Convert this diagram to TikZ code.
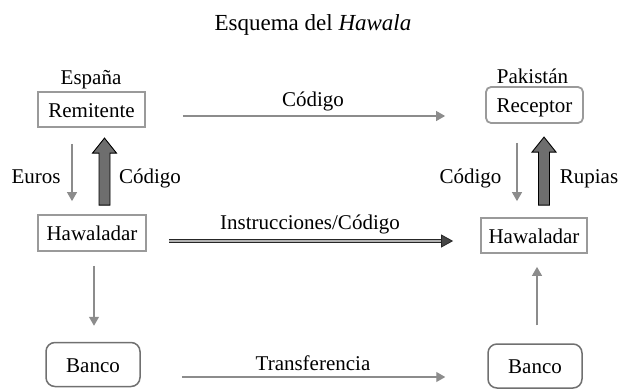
\documentclass[tikz,border=0pt]{standalone}
\usepackage{fontspec}
\setmainfont{Liberation Serif}
\usetikzlibrary{calc,arrows.meta}
\definecolor{boxgray}{HTML}{9A9A9A}
\definecolor{bankgray}{HTML}{707070}
\definecolor{arrgray}{HTML}{8C8C8C}
\definecolor{fatgray}{HTML}{6E6E6E}
\begin{document}
\begin{tikzpicture}[x=1pt,y=-1pt,
  lbl/.style={font=\fontsize{21}{24}\selectfont, anchor=base, inner sep=0pt},
  boxbase/.style={font=\fontsize{21}{24}\selectfont, inner sep=0pt, text height=15pt, text depth=0pt, align=center},
  sqbox/.style={boxbase, draw=boxgray, line width=1.8pt, rectangle},
  rbox/.style={boxbase, draw=boxgray, line width=1.8pt, rounded corners=5pt},
  bankbox/.style={boxbase, draw=bankgray, line width=1.5pt, rounded corners=9pt, minimum width=94pt, minimum height=44pt},
  thinarr/.style={draw=arrgray, line width=1.2pt, -{Triangle[width=10pt,length=9pt]}},
  fatarr/.style={draw=black, fill=fatgray, line width=0.9pt, line join=miter},
  dblarr/.style={draw=black!85, line width=1pt, double=gray!60, double distance=2.4pt, -{Triangle[width=13pt,length=12pt,fill=gray!55!black,line width=0.8pt]}}
]
\useasboundingbox (0,0) rectangle (620,388);

% title
\node[lbl, font=\fontsize{23}{26}\selectfont] (title) at (313,30) {Esquema del \textit{Hawala}};

% boxes
\node[sqbox, minimum width=107pt, minimum height=35pt] (rem) at (91.5,109.5) {Remitente};
\node[sqbox, minimum width=108pt, minimum height=36pt] (hawL) at (92,233) {Hawaladar};
\node[sqbox, minimum width=106pt, minimum height=35pt] (hawR) at (534,235.5) {Hawaladar};
\node[rbox, minimum width=97pt, minimum height=36pt] (rec) at (534.5,105) {Receptor};
\node[bankbox] (bancoL) at (93,364.5) {Banco};
\node[bankbox] (bancoR) at (535,366) {Banco};

% country labels
\node[lbl] (esp) at (91,84) {España};
\node[lbl] (pak) at (532.5,83) {Pakistán};

% top arrow Código
\draw[thinarr] ([shift={(37,6.5)}]rem.east) -- ([shift={(-40,11)}]rec.west);
\node[lbl] (codtop) at (313,106) {Código};

% left vertical
\draw[thinarr] ([shift={(-19.5,16)}]rem.south) -- ([shift={(-20,-13)}]hawL.north);
\draw[fatarr] ([shift={(7,-9)}]hawL.north) -- ++(0,-52) -- ++(-6.5,0) -- ++(12,-15) -- ++(12,15) -- ++(-6.5,0) -- ++(0,52) -- cycle;
\node[lbl] (euros) at (36,183) {Euros};
\node[lbl] (codL) at (150,183) {Código};

% right vertical
\draw[thinarr] ([shift={(-17.5,19)}]rec.south) -- ([shift={(-17,-16)}]hawR.north);
\draw[fatarr] ([shift={(4.5,-12)}]hawR.north) -- ++(0,-53) -- ++(-6.5,0) -- ++(12,-15) -- ++(12,15) -- ++(-6.5,0) -- ++(0,53) -- cycle;
\node[lbl] (codR) at (470.5,183) {Código};
\node[lbl] (rup) at (589,183) {Rupias};

% instrucciones
\draw[dblarr] ([shift={(22,8)}]hawL.east) -- ([shift={(-27,5.5)}]hawR.west);
\node[lbl] (instr) at (310,229) {Instrucciones/Código};

% down / up to banks
\draw[thinarr] ([shift={(2,14)}]hawL.south) -- ([shift={(1,-16)}]bancoL.north);
\draw[thinarr] ([shift={(2,-18)}]bancoR.north) -- ([shift={(3,13)}]hawR.south);

% transferencia
\draw[thinarr] ([shift={(41,12.5)}]bancoL.east) -- ([shift={(-42,11)}]bancoR.west);
\node[lbl] (transf) at (313,370) {Transferencia};
\end{tikzpicture}
\end{document}
